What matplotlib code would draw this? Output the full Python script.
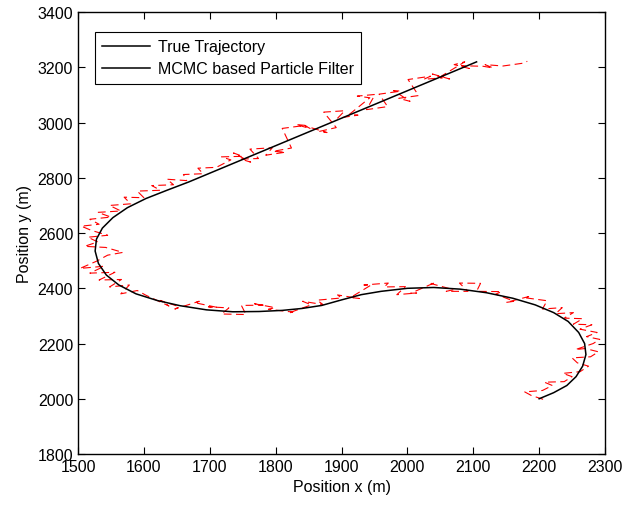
import matplotlib.pyplot as plt
from matplotlib.lines import Line2D

plt.rcParams['font.family'] = ['Liberation Sans', 'DejaVu Sans']

# true trajectory (waypoints)
true_x = [2200, 2222, 2242, 2256, 2266, 2271, 2269, 2260, 2244, 2222, 2194, 2160,
          2120, 2080, 2040, 2000, 1960, 1930, 1900, 1870, 1840, 1810, 1775, 1735,
          1695, 1655, 1620, 1588, 1562, 1543, 1531, 1526, 1528, 1537, 1553, 1575,
          1603, 1635, 1668, 2105]
true_y = [2000, 2022, 2048, 2080, 2118, 2160, 2200, 2240, 2280, 2312, 2340, 2364,
          2384, 2397, 2403, 2400, 2389, 2377, 2358, 2338, 2327, 2320, 2316, 2315,
          2322, 2337, 2356, 2380, 2412, 2448, 2490, 2535, 2578, 2618, 2656, 2692,
          2725, 2755, 2785, 3220]

# MCMC particle filter estimate: right loop, bottom, left loop, straight part
est_x = [2206, 2188, 2178, 2205, 2220, 2208, 2238, 2250, 2236, 2262, 2275, 2258,
         2250, 2278, 2290, 2270, 2255, 2282, 2292, 2272, 2288, 2262, 2280, 2252,
         2266, 2238, 2252, 2225, 2235, 2205,
         2212, 2178, 2184, 2150, 2162, 2134, 2143, 2105, 2111, 2079, 2092, 2059,
         2070, 2036, 2042, 2005, 2014, 1984, 1997, 1965, 1971, 1934, 1945, 1914,
         1927, 1894, 1900, 1863, 1872, 1841, 1854, 1819, 1826, 1789, 1799, 1768,
         1781, 1748, 1755, 1718, 1729, 1698, 1711, 1677, 1684, 1647, 1654, 1625,
         1638, 1603,
         1590, 1565, 1578, 1548, 1566, 1532, 1556, 1518, 1540, 1503, 1528, 1545,
         1568, 1542, 1510, 1530, 1515, 1545, 1520, 1505, 1532, 1518, 1550, 1530,
         1565, 1548, 1580, 1570, 1600, 1590, 1625, 1612, 1645, 1635, 1665, 1660,
         1690, 1682, 1710,
         1732, 1718, 1750, 1736, 1762, 1747, 1774, 1761, 1795, 1785, 1815, 1796,
         1824, 1810, 1845, 1831, 1853, 1845, 1878, 1866, 1892, 1873, 1905, 1894,
         1925, 1912, 1943, 1924, 1951, 1938, 1970, 1957, 1990, 1979, 2004, 1987,
         2017, 2001, 2035, 2025, 2053, 2038, 2064, 2052, 2087, 2071, 2094, 2082,
         2115, 2130, 2118, 2145, 2160, 2175, 2182]
est_y = [1998, 2012, 2025, 2030, 2048, 2060, 2062, 2080, 2092, 2098, 2118, 2130,
         2148, 2152, 2170, 2182, 2178, 2200, 2215, 2225, 2240, 2252, 2268, 2270,
         2290, 2292, 2312, 2308, 2330, 2325,
         2355, 2366, 2370, 2349, 2353, 2379, 2388, 2389, 2418, 2419, 2389, 2389,
         2395, 2417, 2421, 2382, 2383, 2377, 2406, 2405, 2419, 2412, 2412, 2367,
         2363, 2376, 2365, 2357, 2341, 2353, 2340, 2310, 2314, 2324, 2330, 2344,
         2339, 2338, 2305, 2307, 2329, 2333, 2331, 2348, 2353, 2325, 2333, 2356,
         2336, 2375,
         2392, 2380, 2412, 2405, 2432, 2430, 2458, 2455, 2480, 2472, 2498, 2520,
         2530, 2548, 2552, 2568, 2585, 2592, 2610, 2625, 2632, 2650, 2658, 2675,
         2680, 2700, 2706, 2730, 2728, 2752, 2755, 2772, 2775, 2795, 2790, 2812,
         2815, 2835, 2838,
         2865, 2876, 2878, 2890, 2857, 2868, 2870, 2904, 2909, 2882, 2893, 2896,
         2908, 2979, 2990, 2993, 2978, 2988, 2964, 2968, 2982, 3038, 3043, 3016,
         3027, 3030, 3090, 3096, 3102, 3047, 3058, 3103, 3114, 3116, 3077, 3088,
         3098, 3156, 3168, 3157, 3162, 3176, 3158, 3169, 3220, 3210, 3196, 3206,
         3204, 3198, 3210, 3205, 3210, 3215, 3222]

fig = plt.figure(figsize=(6.24, 5.06), dpi=100)
ax = fig.add_axes([0.125, 0.1008, 0.8446, 0.8732])

ax.plot(est_x, est_y, color='r', lw=0.8, linestyle=(0, (7, 4)))
true_line, = ax.plot(true_x, true_y, color='k', lw=1.1)

ax.set_xlim(1500, 2300)
ax.set_ylim(1800, 3400)
ax.set_xticks(range(1500, 2301, 100))
ax.set_yticks(range(1800, 3401, 200))
ax.tick_params(direction='in', top=True, right=True, length=5, labelsize=11.5)
for s in ax.spines.values():
    s.set_linewidth(1.0)

ax.set_xlabel('Position x (m)', fontsize=11.5)
ax.set_ylabel('Position y (m)', fontsize=11.5)

handles = [true_line, Line2D([], [], color='k', lw=1.1)]
leg = ax.legend(handles, ['True Trajectory', 'MCMC based Particle Filter'],
                loc='upper left', bbox_to_anchor=(0.032, 0.955), borderaxespad=0,
                fontsize=11.5, fancybox=False, framealpha=1, edgecolor='k',
                handlelength=3.0, handletextpad=0.5, labelspacing=0.45,
                borderpad=0.45)
leg.get_frame().set_linewidth(0.8)

fig.savefig('out.png')
